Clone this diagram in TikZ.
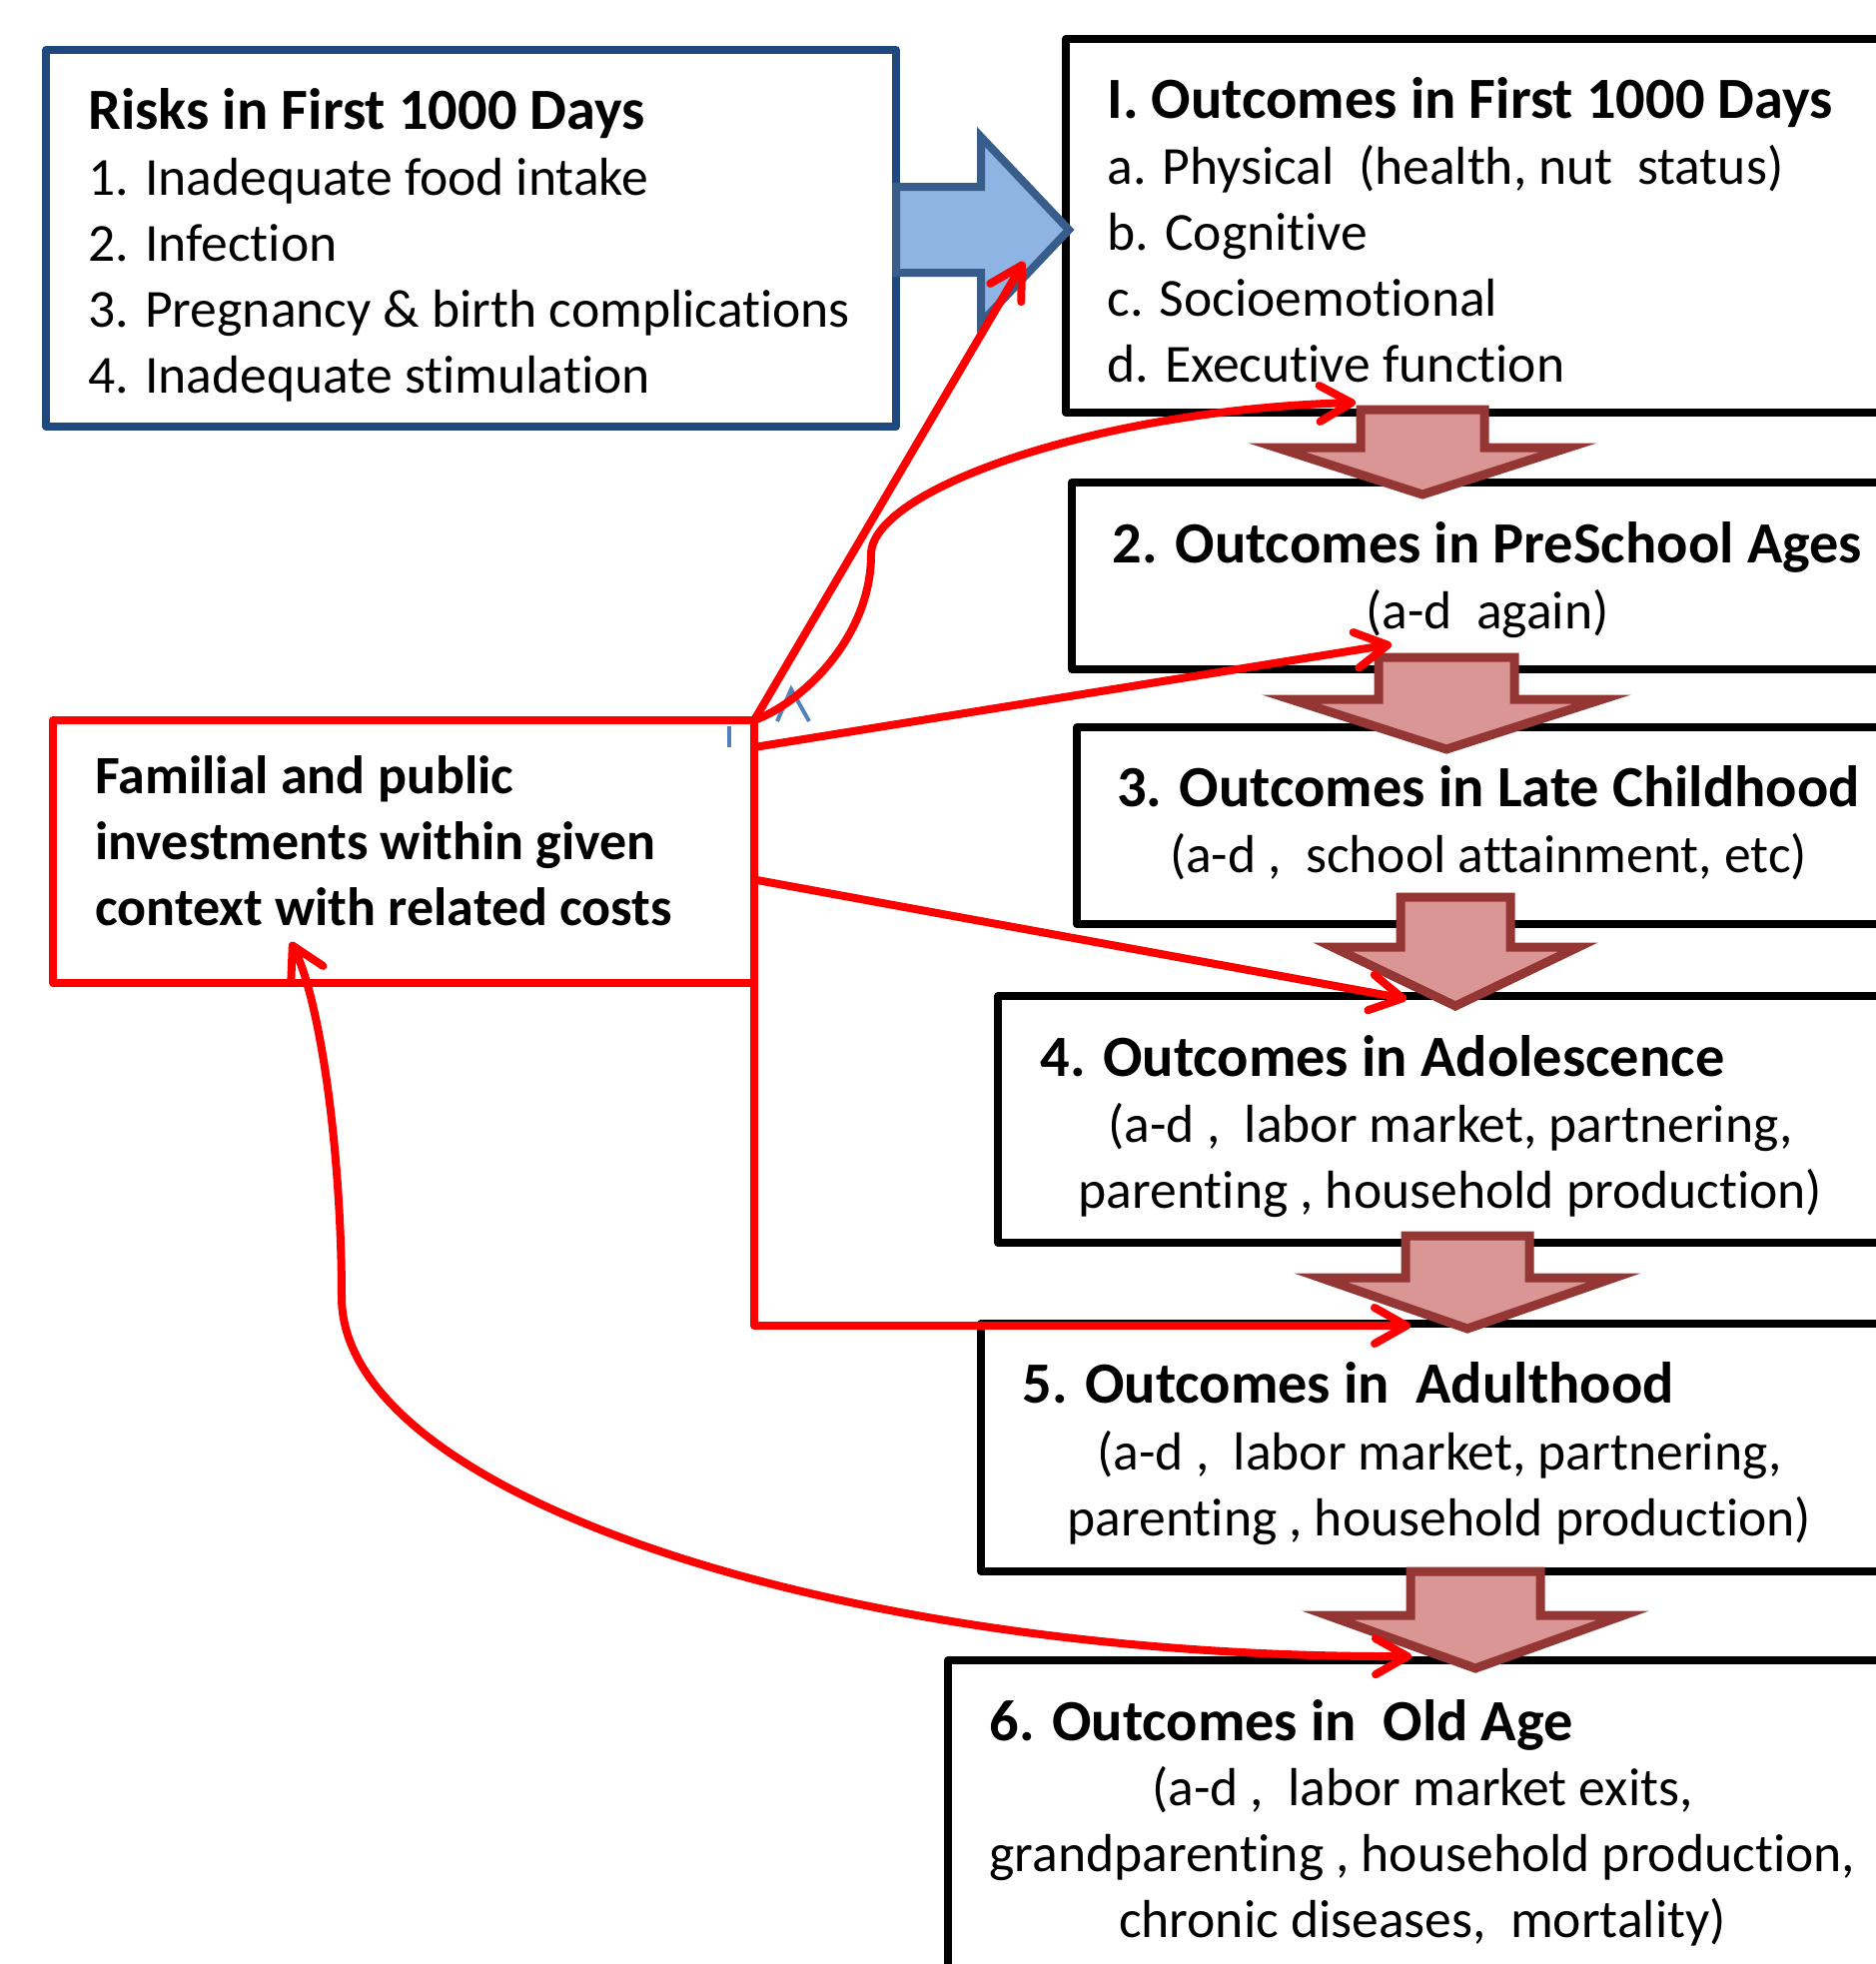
\documentclass[tikz,border=0pt]{standalone}
\usepackage{fontspec}
\setmainfont[Ligatures={TeX,NoCommon}]{Carlito}
\usetikzlibrary{arrows.meta}

\definecolor{riskblue}{HTML}{1F497D}
\definecolor{arrowblue}{HTML}{385D8A}
\definecolor{arrowfill}{HTML}{8EB4E3}
\definecolor{markblue}{HTML}{4F81BD}
\definecolor{pinkfill}{HTML}{D99694}
\definecolor{pinkline}{HTML}{943634}

\newcommand{\boxtitle}[1]{{\fontsize{29.2}{33}\selectfont\bfseries #1}}

\begin{document}
\begin{tikzpicture}[x=0.5pt,
        y=-0.5pt,
        >={Straight Barb[length=16pt,width=18pt,round]},
        outbox/.style={draw, line width=4pt, anchor=north west, outer sep=0pt, line join=round},
        riskbox/.style={outbox, draw=riskblue},
        investbox/.style={outbox, draw=red},
        txt/.style={inner sep=0pt, font=\fontsize{26.8}{33}\selectfont},
        lbl/.style={txt, anchor=north west, align=left},
        ctr/.style={txt, anchor=north, align=center},
        ttl/.style={txt, anchor=base west, font=\fontsize{29.2}{33}\selectfont\bfseries},
        link/.style={->, red, line width=4pt, line cap=round, line join=round},
        downarrow/.style={fill=pinkfill, draw=pinkline, line width=4.5pt}]

    \useasboundingbox (0,0) rectangle (1878,1966);
    \clip (0,0) rectangle (1878,1966);

    % boxes
    \node[riskbox, minimum width=425.5pt, minimum height=188.5pt] (risks) at (46,50) {};
    \node[outbox, minimum width=431.5pt, minimum height=187pt]   (out1) at (1067,39) {};
    \node[outbox, minimum width=430pt, minimum height=93.5pt]    (out2) at (1073,483) {};
    \node[outbox, minimum width=430pt, minimum height=98.5pt]    (out3) at (1078,728) {};
    \node[outbox, minimum width=470pt, minimum height=123.5pt]   (out4) at (999,997) {};
    \node[outbox, minimum width=470pt, minimum height=124pt]     (out5) at (982,1325) {};
    \node[outbox, minimum width=500pt, minimum height=200pt]     (out6) at (949,1662) {};
    \node[investbox, minimum width=351pt, minimum height=131.5pt] (invest) at (53,721) {};

    % block arrows
    \draw[fill=arrowfill, draw=arrowblue, line width=4pt]
        (897,187) -- (982,187) -- (982,137) -- (1070,230) -- (982,323) -- (982,273) -- (897,273) -- cycle;
    \foreach \cx/\top/\wy/\tip/\hs/\hw in {1424/410/448/495/62/146, 1448/658/700/750/68/156,
            1457/898/948/1007/55/123, 1469/1237/1279/1330/62/147, 1477/1573/1617/1670/65/148}
        \draw[downarrow] ({\cx-\hs},\top) -- ({\cx+\hs},\top) -- ({\cx+\hs},\wy) -- ({\cx+\hw},\wy)
            -- (\cx,\tip) -- ({\cx-\hw},\wy) -- ({\cx-\hs},\wy) -- cycle;

    % stray marks
    \draw[markblue, line width=2pt] (778,722) -- (792,690) -- (810,722);
    \draw[markblue, line width=2pt] (730,727) -- (730,748);

    % links
    \coordinate (e1) at (1025,262);
    \coordinate (e2) at (1357,403);
    \coordinate (e3) at (1393,645);
    \coordinate (e4) at (1408,1000);
    \coordinate (e5) at (1412,1327);
    \coordinate (e6) at (1413,1658);

    \draw[link] (invest.north east) -- (e1);
    \draw[link] (invest.north east) .. controls (800,705) and (872,640) .. (872,555)
        .. controls (872,490) and (1100,410) .. (e2);
    \draw[link] ([yshift=-13.5pt]invest.north east) -- (e3);
    \draw[link] ([yshift=-14pt]invest.east) -- (e4);
    \draw[link] (invest.north east) |- (e5);
    \draw[link, <->] ([xshift=119pt,yshift=20.5pt]invest.south west) .. controls (320,1000) and (342,1150) .. (342,1300)
        .. controls (345,1500) and (850,1660) .. (e6);

    % texts
    \node[lbl] (risklist) at (88,83) {\strut\boxtitle{Risks in First 1000 Days}\\1. Inadequate food intake\\2. Infection\\3. Pregnancy \& birth complications\\4. Inadequate stimulation};
    \node[lbl] (out1text) at (1108,72) {\strut\boxtitle{I. Outcomes in First 1000 Days}\\a. Physical\ \ (health, nut\ \ status)\\b. Cognitive\\c. Socioemotional\\d. Executive function};
    \node[ctr] (out2text) at (1489,517) {\strut\boxtitle{2. Outcomes in PreSchool Ages}\\(a-d\ \ again)};
    \node[ctr] (out3text) at (1490,761) {\strut\boxtitle{3. Outcomes in Late Childhood}\\(a-d ,\ \ school attainment, etc)};
    \node[ttl] (out4title) at (1041,1077) {4. Outcomes in Adolescence};
    \node[ctr] (out4text) at (1452,1097) {\strut(a-d ,\ \ labor market, partnering,\\parenting , household production)};
    \node[ttl] (out5title) at (1023,1404) {5. Outcomes in\ \ Adulthood};
    \node[ctr] (out5text) at (1441,1425) {\strut(a-d ,\ \ labor market, partnering,\\parenting , household production)};
    \node[ttl] (out6title) at (990,1742) {6. Outcomes in\ \ Old Age};
    \node[ctr] (out6text) at (1424,1761) {\strut(a-d ,\ \ labor market exits,\\grandparenting , household production,\\chronic diseases,\ \ mortality)};
    \node[lbl, font=\fontsize{27}{33}\selectfont\bfseries] (investtext) at (95,748) {\strut Familial and public\\investments within given\\context with related costs};

\end{tikzpicture}
\end{document}
